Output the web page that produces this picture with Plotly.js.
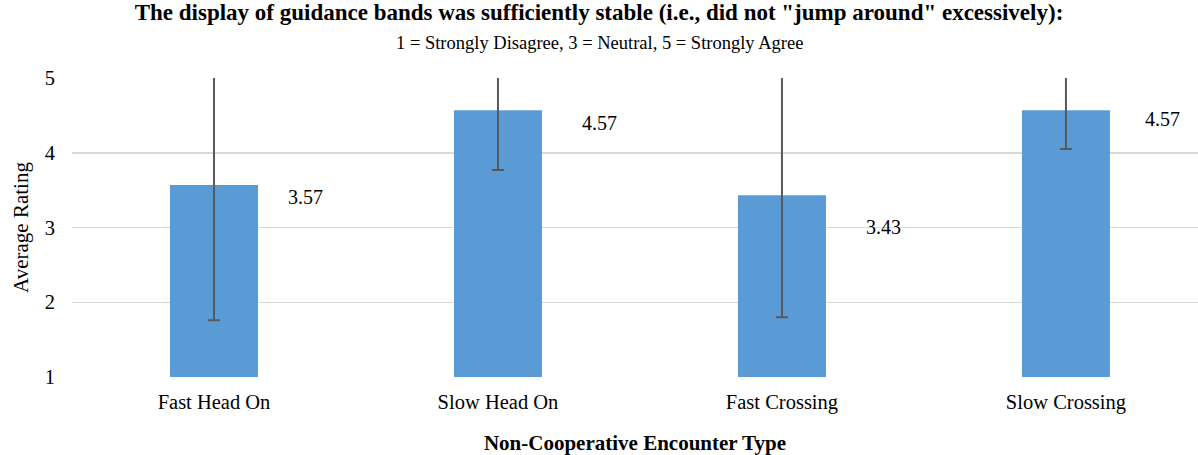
<!DOCTYPE html>
<html>
<head>
<meta charset="utf-8">
<script src="https://cdn.plot.ly/plotly-3.0.1.min.js"></script>
<style>html,body{margin:0;padding:0;background:#fff;}#chart{width:1198px;height:455px;}</style>
</head>
<body>
<div id="chart"></div>
<script>
const categories = ["Fast Head On", "Slow Head On", "Fast Crossing", "Slow Crossing"];
const averageRating = [3.57, 4.57, 3.43, 4.57];
const errorAmount = [1.81, 0.80, 1.63, 0.52];
const valueLabels = ["3.57", "4.57", "3.43", "4.57"];
const yTicks = [1, 2, 3, 4, 5];

const labelXShift = [92, 102, 102, 97];
const labelYShift = [-12, -13, -32, -9];

const serif = "Liberation Serif";

const trace = {
  type: "bar",
  x: categories,
  y: averageRating,
  base: 0,
  width: 0.31,
  marker: {color: "#5B9BD5"},
  error_y: {type: "data", array: errorAmount, visible: true, color: "#595959", thickness: 2, width: 6},
  hoverinfo: "none"
};

const annotations = categories.map((c, i) => ({
  x: c, y: averageRating[i], xref: "x", yref: "y",
  text: valueLabels[i], showarrow: false,
  xshift: labelXShift[i], yshift: labelYShift[i],
  font: {family: serif, size: 20, color: "#000"}
}));

annotations.push({
  xref: "paper", yref: "paper", x: (599 - 72) / 1126, y: 1, yshift: 35,
  text: "1 = Strongly Disagree, 3 = Neutral, 5 = Strongly Agree", showarrow: false,
  xanchor: "center", yanchor: "middle",
  font: {family: serif, size: 18.5, color: "#000"}
});

const layout = {
  width: 1198, height: 455,
  margin: {l: 72, r: 0, t: 78, b: 78},
  paper_bgcolor: "#fff", plot_bgcolor: "#fff",
  title: {
    text: "<b>The display of guidance bands was sufficiently stable (i.e., did not \"jump around\" excessively):</b>",
    x: 0.5, xref: "container", y: 1, yref: "container", yanchor: "top", pad: {t: 4},
    font: {family: serif, size: 23, color: "#000"}
  },
  xaxis: {
    range: [-0.5, 3.465], showgrid: false, zeroline: false, showline: false, ticks: "",
    ticklabelstandoff: 10,
    tickfont: {family: serif, size: 20.5, color: "#000"},
    title: {text: "<b>Non-Cooperative Encounter Type</b>", font: {family: serif, size: 21, color: "#000"}, standoff: 22}
  },
  yaxis: {
    range: [1, 5], tickvals: yTicks, showgrid: true, gridcolor: "#d9d9d9", gridwidth: 1.5,
    zeroline: false, showline: false, ticks: "",
    ticklabelstandoff: 16,
    tickfont: {family: serif, size: 20.5, color: "#000"},
    title: {text: "Average Rating", font: {family: serif, size: 21, color: "#000"}, standoff: 10}
  },
  annotations: annotations,
  showlegend: false
};

Plotly.newPlot("chart", [trace], layout, {displayModeBar: false, staticPlot: true});
</script>
</body>
</html>
